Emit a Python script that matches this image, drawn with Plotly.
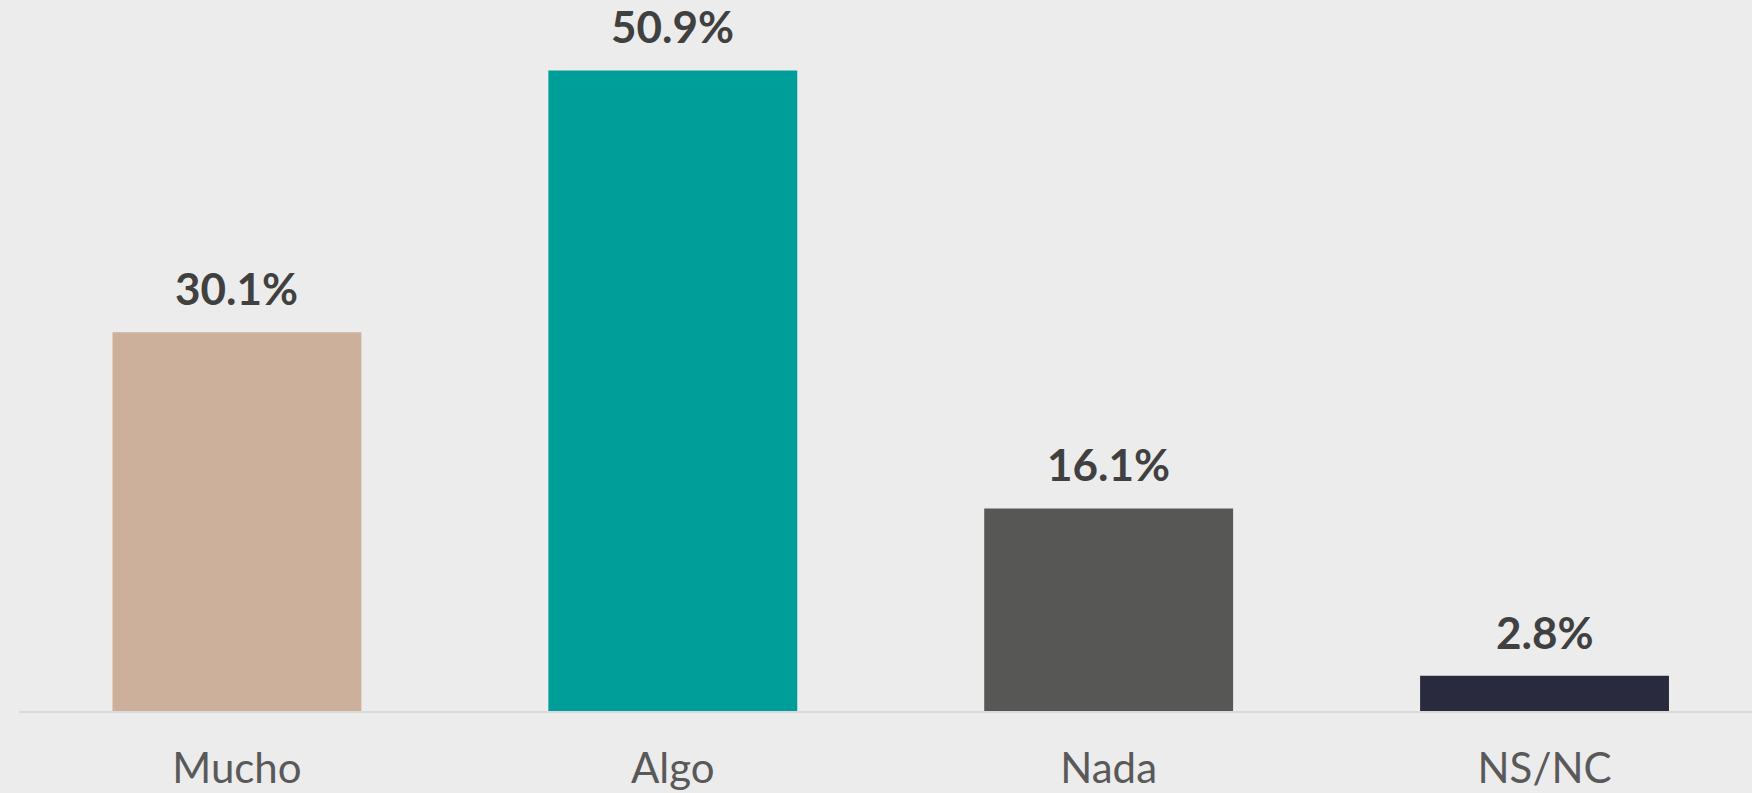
import plotly.graph_objects as go

categories = ["Mucho", "Algo", "Nada", "NS/NC"]
values = [30.1, 50.9, 16.1, 2.8]
labels = ["30.1%", "50.9%", "16.1%", "2.8%"]
colors = ["#CDB09B", "#009E98", "#575755", "#292A3D"]

fig = go.Figure()
fig.add_trace(go.Bar(
    x=categories, y=values, marker=dict(color=colors, line=dict(width=0)),
    width=0.571, hoverinfo="skip",
))
for c, v, t in zip(categories, values, labels):
    fig.add_annotation(x=c, y=v, text=t, showarrow=False, yanchor="bottom",
                       yshift=16, font=dict(family="Lato", size=44, color="#404040", weight="bold"))

fig.update_layout(
    width=1752, height=793,
    margin=dict(l=19, r=0, t=0, b=82),
    paper_bgcolor="#ECECEC", plot_bgcolor="#ECECEC",
    showlegend=False,
    xaxis=dict(range=[-0.5, 3.476], showgrid=False, zeroline=False,
               showline=True, linecolor="#DADADA", linewidth=2,
               ticks="", ticklabelstandoff=20,
               tickfont=dict(family="Lato", size=42, color="#595959")),
    yaxis=dict(range=[0, 56.5], visible=False, showgrid=False, zeroline=False),
)
fig.write_html(
    "out.html",
    config={"displayModeBar": False},
    post_script="document.body.style.margin='0';document.body.style.background='#ECECEC';",
)
